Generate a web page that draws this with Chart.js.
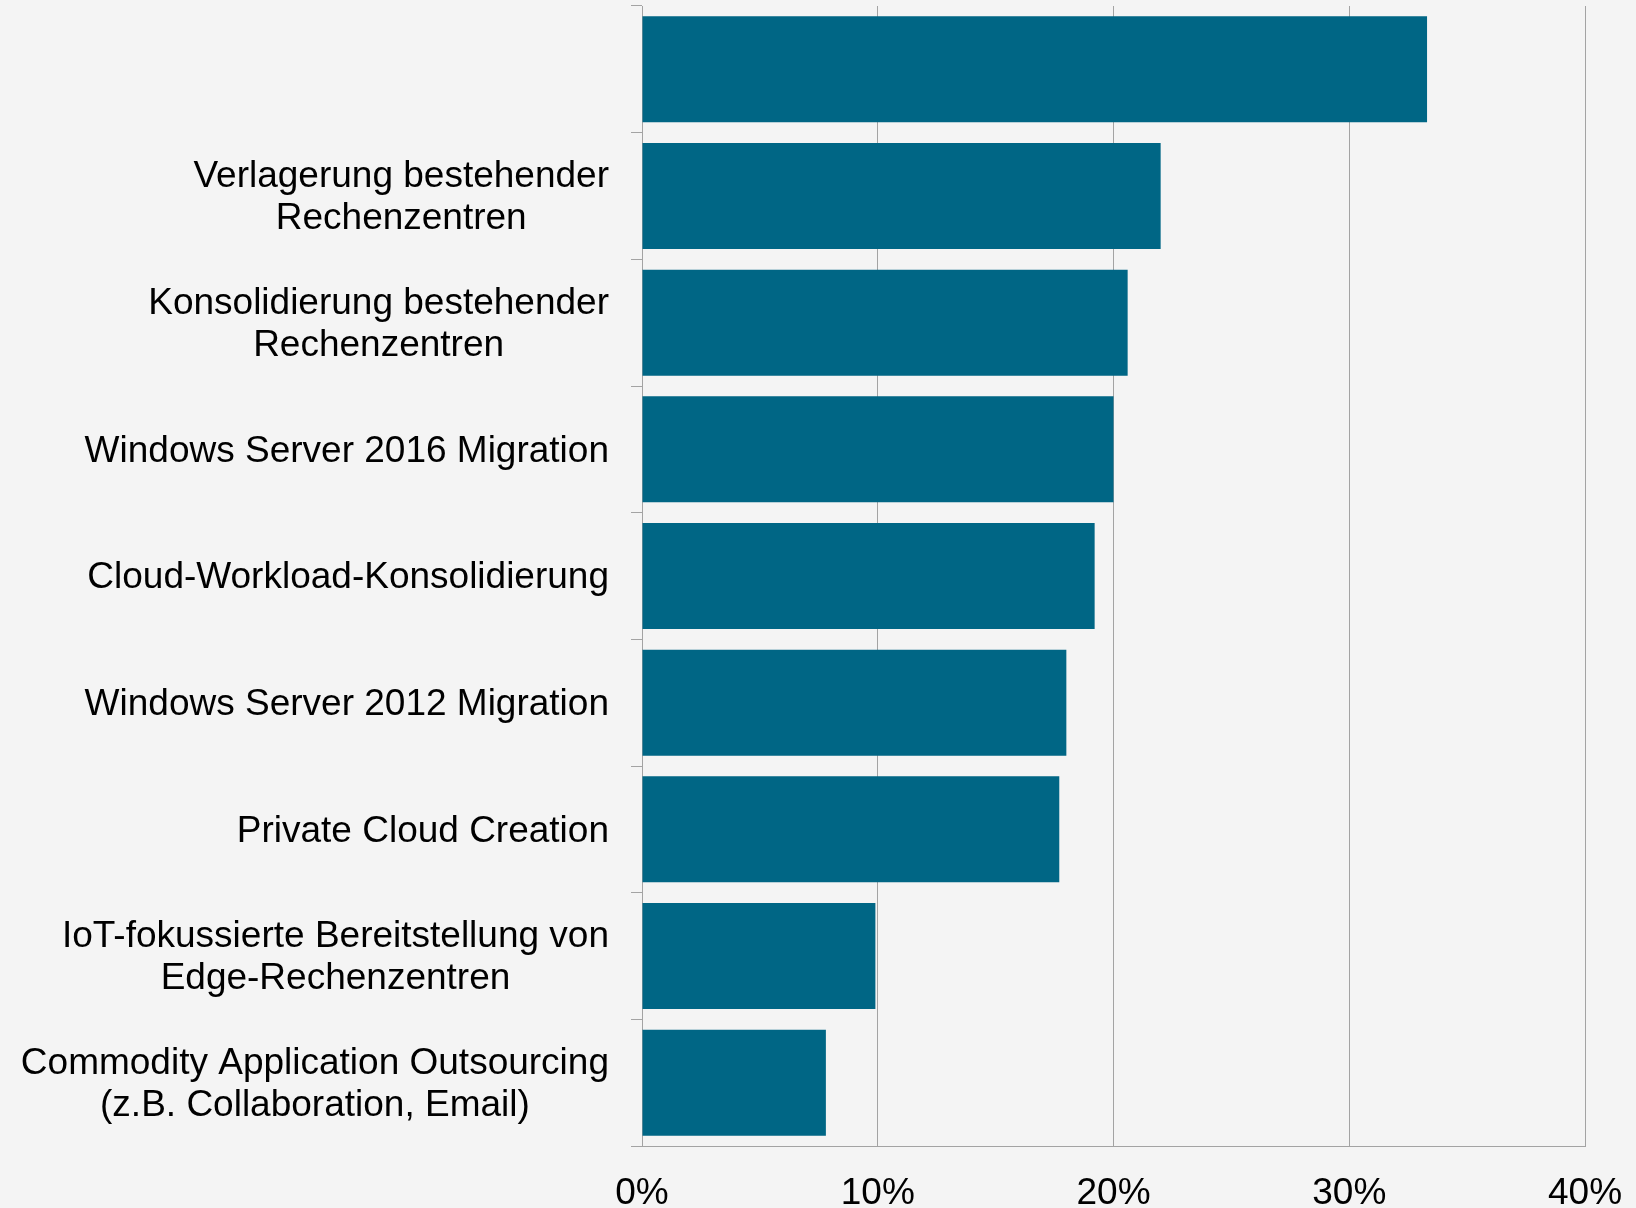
<!DOCTYPE html>
<html>
<head>
<meta charset="utf-8">
<script src="https://cdn.jsdelivr.net/npm/chart.js@4"></script>
<style>
  html, body { margin: 0; padding: 0; background: #f4f4f4; }
  #wrap { width: 1636px; height: 1208px; }
</style>
</head>
<body>
<div id="wrap"><canvas id="chart"></canvas></div>
<script>
// --- Data ---
const categories = [
  [''],
  ['Verlagerung bestehender', 'Rechenzentren'],
  ['Konsolidierung bestehender', 'Rechenzentren'],
  ['Windows Server 2016 Migration'],
  ['Cloud-Workload-Konsolidierung'],
  ['Windows Server 2012 Migration'],
  ['Private Cloud Creation'],
  ['IoT-fokussierte Bereitstellung von', 'Edge-Rechenzentren'],
  ['Commodity Application Outsourcing', '(z.B. Collaboration, Email)']
];
const values = [33.3, 22.0, 20.6, 20.0, 19.2, 18.0, 17.7, 9.9, 7.8];
const xTicks = [0, 10, 20, 30, 40];

// --- Style ---
const FONT = '"Liberation Sans", Arial, sans-serif';
const BAR = '#006685';
const LINE = '#a3a3a3';

// background fill
const bgPlugin = {
  id: 'bg',
  beforeDraw(chart) {
    const ctx = chart.ctx;
    ctx.save();
    ctx.fillStyle = '#f4f4f4';
    ctx.fillRect(0, 0, chart.width, chart.height);
    ctx.restore();
  }
};

// y labels: block right-aligned, lines centred inside the block
const yLabelPlugin = {
  id: 'yLabels',
  afterDraw(chart) {
    const ctx = chart.ctx;
    const y = chart.scales.y;
    const right = 609, lh = 42;
    ctx.save();
    ctx.font = '37px ' + FONT;
    ctx.fillStyle = '#000';
    ctx.textAlign = 'center';
    ctx.textBaseline = 'middle';
    categories.forEach((lines, i) => {
      const w = Math.max(...lines.map(l => ctx.measureText(l).width));
      const cx = right - w / 2;
      const cy = y.getPixelForValue(i) + 2;
      lines.forEach((l, j) => {
        ctx.fillText(l, cx, cy + (j - (lines.length - 1) / 2) * lh);
      });
    });
    ctx.restore();
  }
};

new Chart(document.getElementById('chart'), {
  type: 'bar',
  data: {
    labels: categories.map(c => c.join(' ')),
    datasets: [{
      data: values,
      backgroundColor: BAR,
      borderWidth: 0,
      categoryPercentage: 1,
      barPercentage: 0.837
    }]
  },
  options: {
    indexAxis: 'y',
    responsive: true,
    maintainAspectRatio: false,
    animation: false,
    layout: { padding: { top: 6, right: 51, left: 0, bottom: 0 } },
    plugins: { legend: { display: false }, tooltip: { enabled: false } },
    scales: {
      x: {
        min: 0, max: 40,
        afterBuildTicks: s => { s.ticks = xTicks.map(v => ({ value: v })); },
        afterFit: s => { s.height = 62; s.paddingLeft = 0; s.paddingRight = 0; },
        grid: { color: LINE, drawTicks: false, lineWidth: 1 },
        border: { color: LINE },
        ticks: {
          padding: 26,
          color: '#000',
          font: { family: FONT, size: 37 },
          callback: v => v + '%'
        }
      },
      y: {
        afterFit: s => { s.width = 642; },
        grid: { drawOnChartArea: false, drawTicks: true, tickLength: 11, color: LINE, offset: true },
        border: { color: LINE },
        ticks: { display: false }
      }
    }
  },
  plugins: [bgPlugin, yLabelPlugin]
});
</script>
</body>
</html>
